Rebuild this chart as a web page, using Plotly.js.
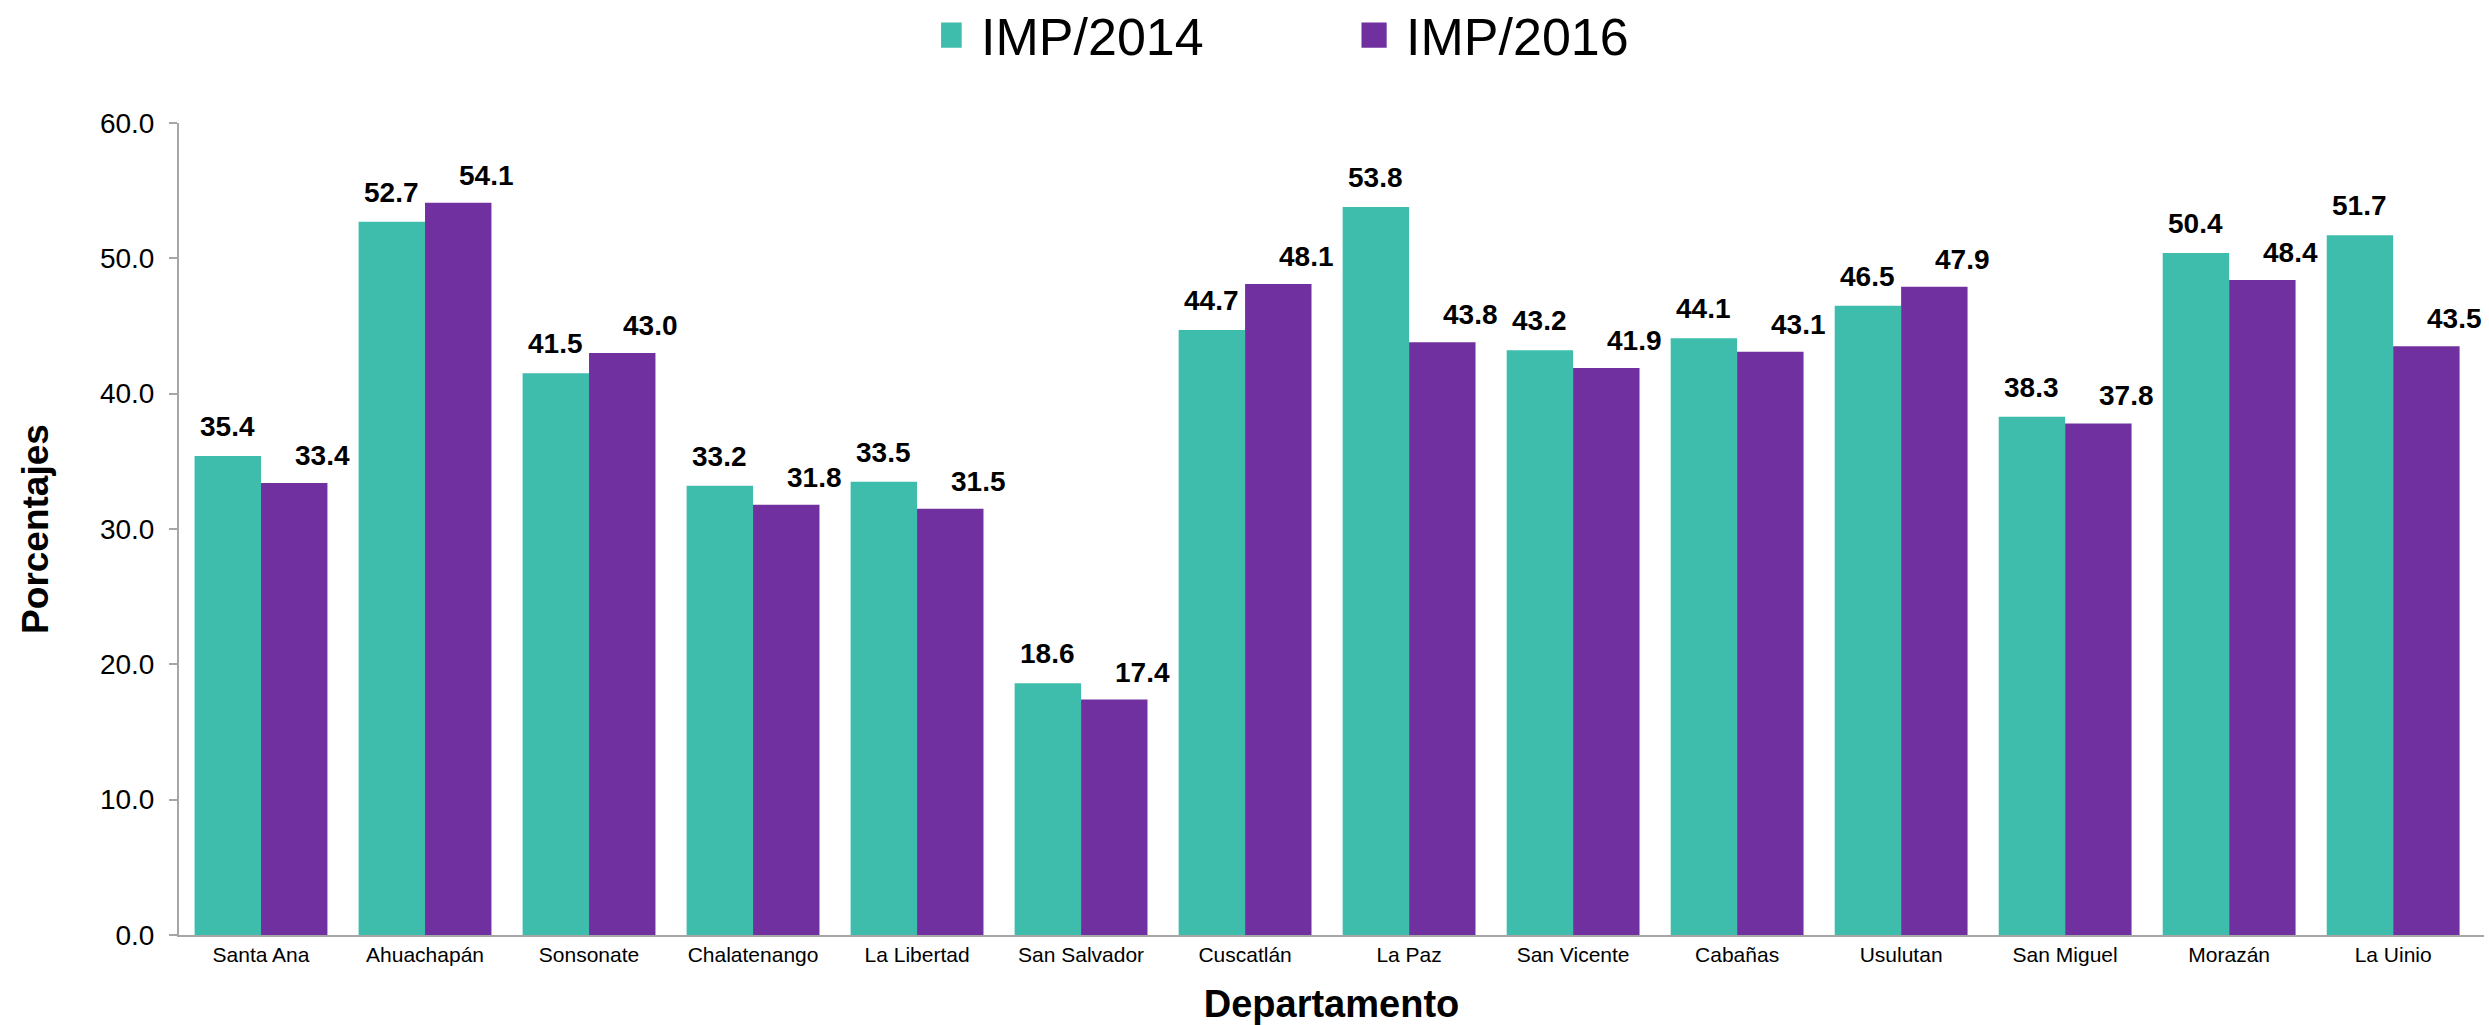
<!DOCTYPE html>
<html>
<head>
<meta charset="utf-8">
<script src="https://cdn.plot.ly/plotly-3.0.1.min.js"></script>
<style>
html,body{margin:0;padding:0;background:#fff;}
#chart{width:2489px;height:1025px;}
</style>
</head>
<body>
<div id="chart"></div>
<script>
// ---- data ----
var departamentos = ["Santa Ana","Ahuachapán","Sonsonate","Chalatenango","La Libertad","San Salvador","Cuscatlán","La Paz","San Vicente","Cabañas","Usulutan","San Miguel","Morazán","La Uinio"];
var imp2014 = [35.4, 52.7, 41.5, 33.2, 33.5, 18.6, 44.7, 53.8, 43.2, 44.1, 46.5, 38.3, 50.4, 51.7];
var imp2016 = [33.4, 54.1, 43.0, 31.8, 31.5, 17.4, 48.1, 43.8, 41.9, 43.1, 47.9, 37.8, 48.4, 43.5];
var seriesNames = ["IMP/2014", "IMP/2016"];
var yTickVals = [0, 10, 20, 30, 40, 50, 60];

// ---- style ----
var TEAL = "#3EBDAD", PURPLE = "#7030A0";
var FONT = "Liberation Sans, Arial, sans-serif";
var W = 2489, H = 1025;
var margin = {l: 179, r: 5, t: 123, b: 90, autoexpand: false};
var bargap = 0.19;

var catW = (W - margin.l - margin.r) / departamentos.length;
var barOffset = catW * (1 - bargap) / 4;

var traces = [
  {type: "bar", name: seriesNames[0], x: departamentos, y: imp2014,
   marker: {color: TEAL, line: {width: 0}}, hoverinfo: "x+y"},
  {type: "bar", name: seriesNames[1], x: departamentos, y: imp2016,
   marker: {color: PURPLE, line: {width: 0}}, hoverinfo: "x+y"}
];

var annotations = [];
departamentos.forEach(function (d, i) {
  annotations.push({x: d, y: imp2014[i], xref: "x", yref: "y", text: imp2014[i].toFixed(1),
    showarrow: false, xanchor: "center", yanchor: "bottom", xshift: -barOffset, yshift: 12,
    font: {family: FONT, size: 28, color: "#000", weight: "bold"}});
  annotations.push({x: d, y: imp2016[i], xref: "x", yref: "y", text: imp2016[i].toFixed(1),
    showarrow: false, xanchor: "center", yanchor: "bottom", xshift: barOffset + 28, yshift: 10,
    font: {family: FONT, size: 28, color: "#000", weight: "bold"}});
});

var layout = {
  width: W, height: H,
  margin: margin,
  paper_bgcolor: "#fff", plot_bgcolor: "#fff",
  barmode: "group", bargap: bargap, bargroupgap: 0,
  font: {family: FONT, color: "#000"},
  showlegend: true,
  legend: {orientation: "h", x: 0.515, xanchor: "center", y: 1.108, yanchor: "middle",
    font: {family: FONT, size: 52, color: "#000"}, entrywidth: 380, entrywidthmode: "pixels",
    bgcolor: "rgba(0,0,0,0)"},
  xaxis: {type: "category", showline: true, linecolor: "#a6a6a6", linewidth: 2,
    ticks: "", showgrid: false, zeroline: false,
    tickfont: {family: FONT, size: 21, color: "#000"},
    title: {text: "Departamento", font: {family: FONT, size: 38, color: "#000", weight: "bold"}, standoff: 27}},
  yaxis: {range: [0, 60], tickvals: yTickVals, tickformat: ".1f", showline: true,
    linecolor: "#a6a6a6", linewidth: 2, ticks: "outside", ticklen: 8, tickcolor: "#a6a6a6", tickwidth: 2,
    ticklabelstandoff: 9,
    showgrid: false, zeroline: false,
    tickfont: {family: FONT, size: 28, color: "#000"},
    title: {text: "Porcentajes", font: {family: FONT, size: 37, color: "#000", weight: "bold"}, standoff: 40}},
  annotations: annotations
};

Plotly.newPlot("chart", traces, layout, {displayModeBar: false, staticPlot: true}).then(function () {
  document.querySelectorAll(".legend .legendpoints path").forEach(function (p) {
    p.setAttribute("transform", "translate(8,0) scale(2.1)");
  });
});
</script>
</body>
</html>
